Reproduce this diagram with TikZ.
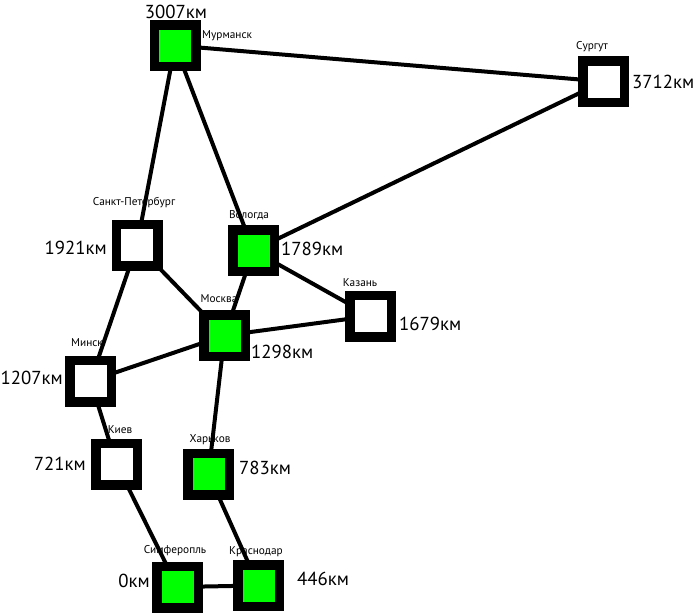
\documentclass[tikz,border=0pt]{standalone}
\usepackage{fontspec}
\setmainfont{PT Sans}
\definecolor{cityGreen}{RGB}{0,255,0}
\pgfdeclarelayer{labels}
\pgfdeclarelayer{edges}
\pgfsetlayers{labels,edges,main}
\tikzset{
  citybox/.style={draw=black, line width=9.5pt, minimum size=41.5pt, inner sep=0pt, rectangle},
  visitedcity/.style={citybox, fill=cityGreen},
  opencity/.style={citybox, fill=white},
  road/.style={draw=black, line width=4pt},
  distlabel/.style={inner sep=0pt, font=\fontsize{18.8}{20}\selectfont},
  citylabel/.style={inner sep=0pt, font=\fontsize{11.3}{12}\selectfont},
}
\begin{document}
\begin{tikzpicture}[x=1pt, y=-1pt]
\useasboundingbox (0,0) rectangle (697,613);

% cities
\node[visitedcity] (mur) at (175,45.5) {};
\node[opencity]    (sur) at (603.5,81.5) {};
\node[opencity]    (spb) at (137,245) {};
\node[visitedcity] (vol) at (253.5,250.5) {};
\node[visitedcity] (msk) at (224.5,335.5) {};
\node[opencity]    (kaz) at (370.5,316) {};
\node[opencity]    (min) at (90.5,381) {};
\node[opencity]    (kie) at (116.5,464) {};
\node[visitedcity] (kha) at (208.5,474) {};
\node[visitedcity] (sim) at (177.5,587) {};
\node[visitedcity] (kra) at (258.5,585.5) {};

% roads
\begin{pgfonlayer}{edges}
\draw[road] (mur.center) -- (sur.center);
\draw[road] (mur.center) -- (spb.center);
\draw[road] (mur.center) -- (vol.center);
\draw[road] (sur.center) -- (vol.center);
\draw[road] (spb.center) -- (min.center);
\draw[road] (spb.center) -- (msk.center);
\draw[road] (vol.center) -- (msk.center);
\draw[road] (vol.center) -- (kaz.center);
\draw[road] (msk.center) -- (kaz.center);
\draw[road] (msk.center) -- (min.center);
\draw[road] (msk.center) -- (kha.center);
\draw[road] (min.center) -- (kie.center);
\draw[road] (kie.center) -- (sim.center);
\draw[road] (kha.center) -- (kra.center);
\draw[road] (sim.center) -- (kra.center);
\end{pgfonlayer}

% white page, names and distances
\begin{pgfonlayer}{labels}
\fill[white] (0,0) rectangle (697,613);
\node[citylabel, anchor=west] (murN) at (202,36) {Мурманск};
\node[citylabel] (surN) at (592,47) {Сургут};
\node[citylabel] (spbN) at (134,203) {Санкт-Петербург};
\node[citylabel] (volN) at (249,215) {Вологда};
\node[citylabel] (mskN) at (219,299) {Москва};
\node[citylabel] (kazN) at (360,283) {Казань};
\node[citylabel] (minN) at (87,343) {Минск};
\node[citylabel] (kieN) at (120,430) {Киев};
\node[citylabel] (khaN) at (210,440) {Харьков};
\node[citylabel] (simN) at (175,551) {Симферопль};
\node[citylabel] (kraN) at (256,552) {Краснодар};

\node[distlabel] (murD) at (176,12) {3007км};
\node[distlabel, anchor=west] (surD) at (632,82) {3712км};
\node[distlabel, anchor=east] (spbD) at (107,248) {1921км};
\node[distlabel, anchor=west] (volD) at (281,249) {1789км};
\node[distlabel, anchor=west] (mskD) at (251,352) {1298км};
\node[distlabel, anchor=west] (kazD) at (399,324) {1679км};
\node[distlabel, anchor=east] (minD) at (63,378) {1207км};
\node[distlabel, anchor=east] (kieD) at (86,464) {721км};
\node[distlabel, anchor=west] (khaD) at (239,468) {783км};
\node[distlabel, anchor=east] (simD) at (150,581) {0км};
\node[distlabel, anchor=west] (kraD) at (297,579) {446км};
\end{pgfonlayer}
\end{tikzpicture}
\end{document}
